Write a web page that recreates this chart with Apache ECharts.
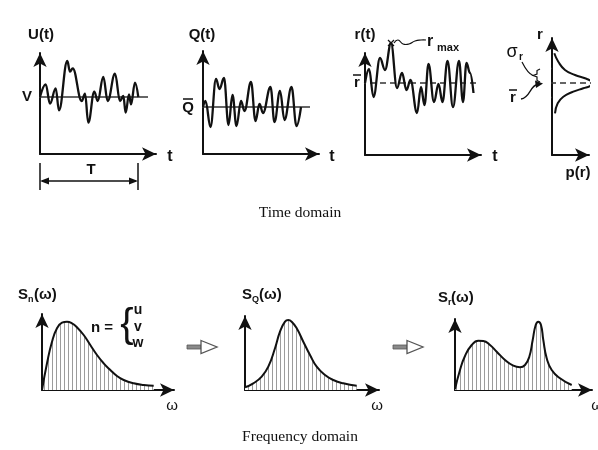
<!DOCTYPE html>
<html><head><meta charset="utf-8">
<script src="https://cdn.jsdelivr.net/npm/echarts@6/dist/echarts.min.js"></script>
<style>html,body{margin:0;padding:0;background:#fff}#c{width:598px;height:450px}</style>
</head><body><div id="c"></div>
<script>
// ---- Time domain: U(t) ----
const uT = [0,5.7,10,15.7,19,27.3,30,32.7,41.7,45,48.3,54.3,57.7,63.3,67.7,75,80,83.3,85.7,89,91,95,98.3];
const uV = [57,69.7,50.3,65.7,43.7,93,82.3,85.7,53,60.3,31.3,62.3,53,77,53,80.3,53,58,41.3,59.7,49.7,71.3,57];
const uMean = 57;
// ---- Q(t) ----
const qT = [0,2.5,7.5,13,16.5,21,25.5,29.5,33.5,38,41.5,48,52.5,56.5,60,67.5,71.5,77,81.5,88.5,93.5,98];
const qV = [47,53,27,75,65,76,29,59,28,53,43,72,33,50,41,67,32,63,34,67,28,47];
const qMean = 47;
// ---- r(t) ----
const rT = [0,4,8.5,15,20,26,32,37,41.5,45.5,52,56,59.5,63.5,69,73.5,77.5,82.5,88,94,98,101.5,105,108.5];
const rV = [72,86,58,97,85,112,67,82,65,75,42,68,50,91,53,71,53,94,48,94,53,92,82,62];
const rMean = 72;
// ---- p(r) ----
const pP = [2.3,6.3,13,23,33,39,40.3,38,31.3,21.3,11.3,5.7,3];
const pR = [101.7,93.3,85,80,76.7,74,72,69,66.7,63.3,58.3,51.7,41.7];
const pSigma = 14.5;
// ---- Frequency domain spectra ----
const snW = [0,5,10,15,20,25,30,35,41.7,48.3,55,61.7,68.3,75,81.7,91.7,101.7,111.7];
const snS = [0,26.7,48.3,61.7,67.3,68.3,66.7,62.7,55,45,35,26.7,20,14,10,6.7,5,4.3];
const sqW = [0,8.3,16.7,23.3,30,35,40,43.3,46.7,51.7,58.3,65,71.7,80,88.3,98.3,111.7];
const sqS = [2.7,6.7,13.3,23.3,41.7,58.3,68.3,70,68.3,61.7,48.3,35,23.3,15,10,6.7,4.3];
const srW = [0,5,10,16.7,23.3,28.3,35,41.7,50,58.3,65,70,74.3,77.7,80.7,83.3,86,88.3,91.7,96.7,105,116.7];
const srS = [0.7,20,34,45,49.3,49,45,38.3,30,24.3,22.7,25,33.3,50,65,68.3,65,50,31.7,20,11.7,5];

const zip = (a, b) => a.map((v, i) => [v, b[i]]);
const FONT = '"Liberation Sans", Arial, sans-serif';
const INK = '#111';

const grids = [
  {left:40, top:53, width:116, height:101},   // U
  {left:203, top:51, width:116, height:103},  // Q
  {left:365, top:53, width:116, height:102},  // r
  {left:552, top:38, width:37, height:117},   // p(r)
  {left:42, top:314, width:132, height:76},   // Sn
  {left:245, top:316, width:134, height:74},  // SQ
  {left:455, top:319, width:137, height:71}   // Sr
];
function axis(i, max) {
  return {type:'value', gridIndex:i, min:0, max:max,
    axisLine:{show:true, onZero:false, symbol:['none','arrow'], symbolSize:[10,14],
      lineStyle:{color:INK, width:2}},
    axisTick:{show:false}, axisLabel:{show:false}, splitLine:{show:false}};
}
const xAxes = grids.map((g, i) => axis(i, g.width));
const yAxes = grids.map((g, i) => axis(i, g.height));

const pc = document.createElement('canvas');
pc.width = 4; pc.height = 4;
const gctx = pc.getContext('2d');
gctx.fillStyle = '#fff'; gctx.fillRect(0,0,4,4);
gctx.fillStyle = '#9c9c9c'; gctx.fillRect(0,0,1,4);

function sig(i, data, opt) {
  return Object.assign({type:'line', xAxisIndex:i, yAxisIndex:i, data:data,
    smooth:0.4, smoothMonotone:'x',
    symbol:'none', clip:false, silent:true,
    lineStyle:{color:INK, width:2.3}}, opt || {});
}
function flat(i, data, dashed, w) {
  return {type:'line', xAxisIndex:i, yAxisIndex:i, data:data, symbol:'none', clip:false, silent:true,
    lineStyle:{color:'#333', width:w || 1.5, type: dashed ? [6,4] : 'solid'}};
}
const spec = (i, w, s) => sig(i, zip(w, s), {smooth:0.5, smoothMonotone:null, lineStyle:{color:INK, width:2},
  areaStyle:{color:{image:pc, repeat:'repeat'}, opacity:1}});

const series = [
  flat(0, [[-3,uMean],[108,uMean]]),
  sig(0, zip(uT, uV)),
  flat(1, [[-5,qMean],[107,qMean]]),
  sig(1, zip(qT, qV)),
  flat(2, [[-5,rMean],[115,rMean]], true),
  sig(2, zip(rT, rV)),
  flat(3, [[-12,rMean],[43,rMean]], true),
  flat(3, [[-7,rMean+pSigma],[0,rMean+pSigma]], false, 1.5),
  flat(3, [[-7,rMean-pSigma],[0,rMean-pSigma]], false, 1.5),
  sig(3, zip(pP, pR), {smooth:0.5, smoothMonotone:null, lineStyle:{color:INK, width:2}}),
  spec(4, snW, snS),
  spec(5, sqW, sqS),
  spec(6, srW, srS)
];

function T(x, y, s, size, o) {
  o = o || {};
  return {type:'text', silent:true, style:{x:x, y:y, text:s,
    font:(o.weight || 'bold') + ' ' + size + 'px ' + (o.family || FONT),
    fill:o.fill || INK, textAlign:o.align || 'center', align:o.align || 'center',
    textVerticalAlign:'middle', verticalAlign:'middle'}};
}
function L(x1, y1, x2, y2, w) {
  return {type:'line', silent:true, shape:{x1:x1, y1:y1, x2:x2, y2:y2}, style:{stroke:INK, lineWidth:w || 1.5}};
}
function P(points, fill, stroke) {
  return {type:'polygon', silent:true, shape:{points:points}, style:{fill:fill || INK, stroke:stroke || null, lineWidth:1.3}};
}
function hollowArrow(x0, y) {
  return [
    {type:'rect', silent:true, shape:{x:x0, y:y-2, width:14, height:4}, style:{fill:'#8a8a8a', stroke:'#555', lineWidth:0.8}},
    P([[x0+14,y-6.5],[x0+30,y],[x0+14,y+6.5]], '#fff', '#555')
  ];
}

const graphics = [
  // U(t)
  T(41,35,'U(t)',15), T(27,97,'V',15), T(170,157,'t',16),
  L(40,163,40,190), L(138,163,138,190), L(42,181,136,181),
  P([[40,181],[49,177.5],[49,184.5]]), P([[138,181],[129,177.5],[129,184.5]]),
  T(91,170,'T',15),
  // Q(t)
  T(202,35,'Q(t)',15), T(188,108,'Q',15), L(183,99,193,99,1.5), T(332,157,'t',16),
  // r(t)
  T(365,35,'r(t)',15), T(357,83,'r',15), L(353,75,361,75,1.5), T(495,157,'t',16),
  L(388,40,394,46,1.2), L(388,46,394,40,1.2),
  {type:'polyline', silent:true, shape:{points:[[394,43],[398,40],[403,44],[409,44],[415,41],[421,40],[426,40]], smooth:0.5}, style:{stroke:INK, lineWidth:1.2, fill:null}},
  T(427,42,'r',16, {align:'left'}), T(437,48,'max',11, {align:'left'}),
  // p(r)
  T(540,35,'r',15), T(578,173,'p(r)',15),
  T(512,52,'σ',18, {weight:'normal'}), T(521,57,'r',10),
  T(513,98,'r',15), L(509,90,517,90,1.5),
  {type:'bezierCurve', silent:true, shape:{x1:522,y1:62,cpx1:526,cpy1:70,cpx2:529,cpy2:74,x2:533,y2:75.5}, style:{stroke:INK, lineWidth:1.2, fill:null}},
  {type:'polyline', silent:true, shape:{points:[[540,69],[537,70.5],[537,74],[533,75.5],[537,77],[537,80.5],[540,82]]}, style:{stroke:INK, lineWidth:1.2, fill:null}},
  {type:'bezierCurve', silent:true, shape:{x1:521,y1:99,cpx1:530,cpy1:98,cpx2:530,cpy2:86,x2:537,y2:84.5}, style:{stroke:INK, lineWidth:1.3, fill:null}},
  P([[535,80.5],[543,83.5],[536,88]]),
  // titles
  T(300,213,'Time domain',15.5, {weight:'normal', family:'"Liberation Serif", "Times New Roman", serif'}),
  T(300,437,'Frequency domain',15.5, {weight:'normal', family:'"Liberation Serif", "Times New Roman", serif'}),
  // S_n
  T(18,295,'S',15,{align:'left'}), T(28,300,'n',9,{align:'left'}), T(34,295,'(ω)',15,{align:'left'}),
  T(102,328,'n =',15), T(127,326,'{',40,{weight:'normal'}),
  T(138,310,'u',14), T(138,327,'v',14), T(138,343,'w',14),
  T(67,374,'σ',19,{weight:'normal'}), T(77,379,'n',10), T(81,363,'2',12),
  T(172,406,'ω',15,{weight:'normal'}),
  // S_Q
  T(242,295,'S',15,{align:'left'}), T(252,300,'Q',9,{align:'left'}), T(259,295,'(ω)',15,{align:'left'}),
  T(286,374,'σ',19,{weight:'normal'}), T(296,379,'Q',10), T(301,363,'2',12),
  T(377,406,'ω',15,{weight:'normal'}),
  // S_r
  T(438,298,'S',15,{align:'left'}), T(448,303,'r',9,{align:'left'}), T(451,298,'(ω)',15,{align:'left'}),
  T(478,374,'σ',19,{weight:'normal'}), T(487,379,'r',10), T(490,364,'2',12),
  T(597,406,'ω',15,{weight:'normal'})
].concat(hollowArrow(187,347), hollowArrow(393,347));

const chart = echarts.init(document.getElementById('c'), null, {renderer:'canvas'});
chart.setOption({
  animation:false, backgroundColor:'#fff',
  grid:grids, xAxis:xAxes, yAxis:yAxes, series:series, graphic:graphics
});
</script></body></html>
